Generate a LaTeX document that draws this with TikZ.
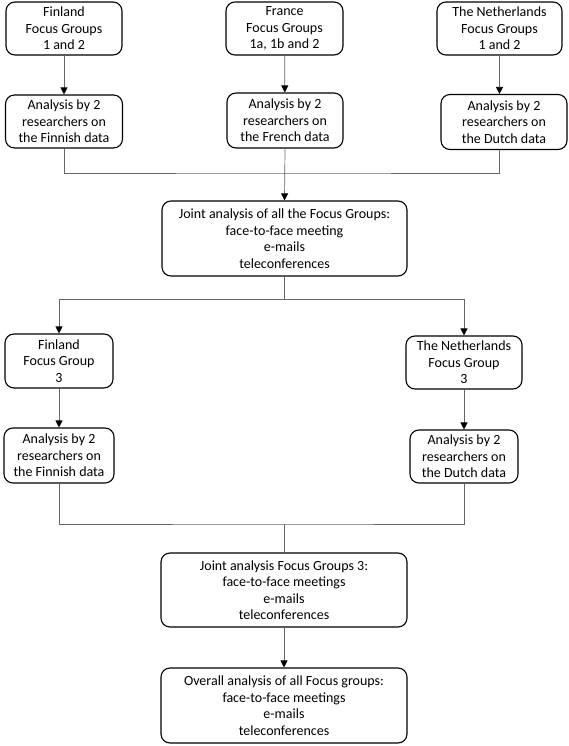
\documentclass[tikz,border=0pt]{standalone}
\usepackage{fontspec}
\setmainfont{Carlito}
\usetikzlibrary{arrows.meta}

\begin{document}
\begin{tikzpicture}[x=1pt,y=-1pt,
  box/.style={draw,line width=1.1pt,rounded corners=9pt,align=center,inner sep=0pt,
    font=\fontsize{14}{16.5}\selectfont},
  conn/.style={draw=black!60,line width=0.7pt},
  arr/.style={conn,-{Triangle[width=7pt,length=7pt,fill=black,color=black]}}]
\useasboundingbox (0,0) rectangle (569,746);
\node[box,minimum width=116pt,minimum height=53pt] (fin1) at (64,28.5) {Finland\\Focus Groups\\1 and 2};
\node[box,minimum width=117pt,minimum height=53pt] (fra1) at (284.5,28.5) {France\\Focus Groups\\1a, 1b and 2};
\node[box,minimum width=125pt,minimum height=53pt] (ned1) at (499.5,28.5) {The Netherlands\\Focus Groups\\1 and 2};
\node[box,minimum width=117pt,minimum height=53pt] (finA) at (64,121.5) {Analysis by 2\\researchers on\\the Finnish data};
\node[box,minimum width=116pt,minimum height=55pt] (fraA) at (285,120.5) {Analysis by 2\\researchers on\\the French data};
\node[box,minimum width=126pt,minimum height=55pt] (nedA) at (504,122) {Analysis by 2\\researchers on\\the Dutch data};
\node[box,minimum width=245pt,minimum height=75pt] (joint) at (284.5,238.5) {Joint analysis of all the Focus Groups:\\face-to-face meeting\\e-mails\\teleconferences};
\node[box,minimum width=108pt,minimum height=54pt] (fin3) at (59,361) {Finland\\Focus Group\\3};
\node[box,minimum width=116pt,minimum height=53pt] (ned3) at (464,362.5) {The Netherlands\\Focus Group\\3};
\node[box,minimum width=110pt,minimum height=55pt] (finB) at (59,455.5) {Analysis by 2\\researchers on\\the Finnish data};
\node[box,minimum width=108pt,minimum height=53pt] (nedB) at (464,456.5) {Analysis by 2\\researchers on\\the Dutch data};
\node[box,minimum width=246pt,minimum height=74pt] (joint3) at (284,590) {Joint analysis Focus Groups 3:\\face-to-face meetings\\e-mails\\teleconferences};
\node[box,minimum width=246pt,minimum height=75pt] (overall) at (284,705.5) {Overall analysis of all Focus groups:\\face-to-face meetings\\e-mails\\teleconferences};
\coordinate (busA) at (285,173);
\coordinate (busB) at (284.5,299);
\coordinate (busC) at (284,524);
\draw[arr] (fin1) -- (finA);
\draw[arr] (fra1) -- (fraA);
\draw[arr] (ned1.south) -- (ned1.south |- nedA.north);
\draw[conn] (finA.south) |- (busA) -| (ned1.south |- nedA.south);
\draw[arr] (fraA.south) -- (joint.north);
\draw[conn] (joint.south) -- (busB);
\draw[arr] (busB) -| (fin3.north);
\draw[arr] (busB) -| (ned3.north);
\draw[arr] (fin3) -- (finB);
\draw[arr] (ned3) -- (nedB);
\draw[conn] (finB.south) |- (busC) -| (nedB.south);
\draw[conn] (busC) -- (joint3.north);
\draw[arr] (joint3) -- (overall);
\end{tikzpicture}
\end{document}
